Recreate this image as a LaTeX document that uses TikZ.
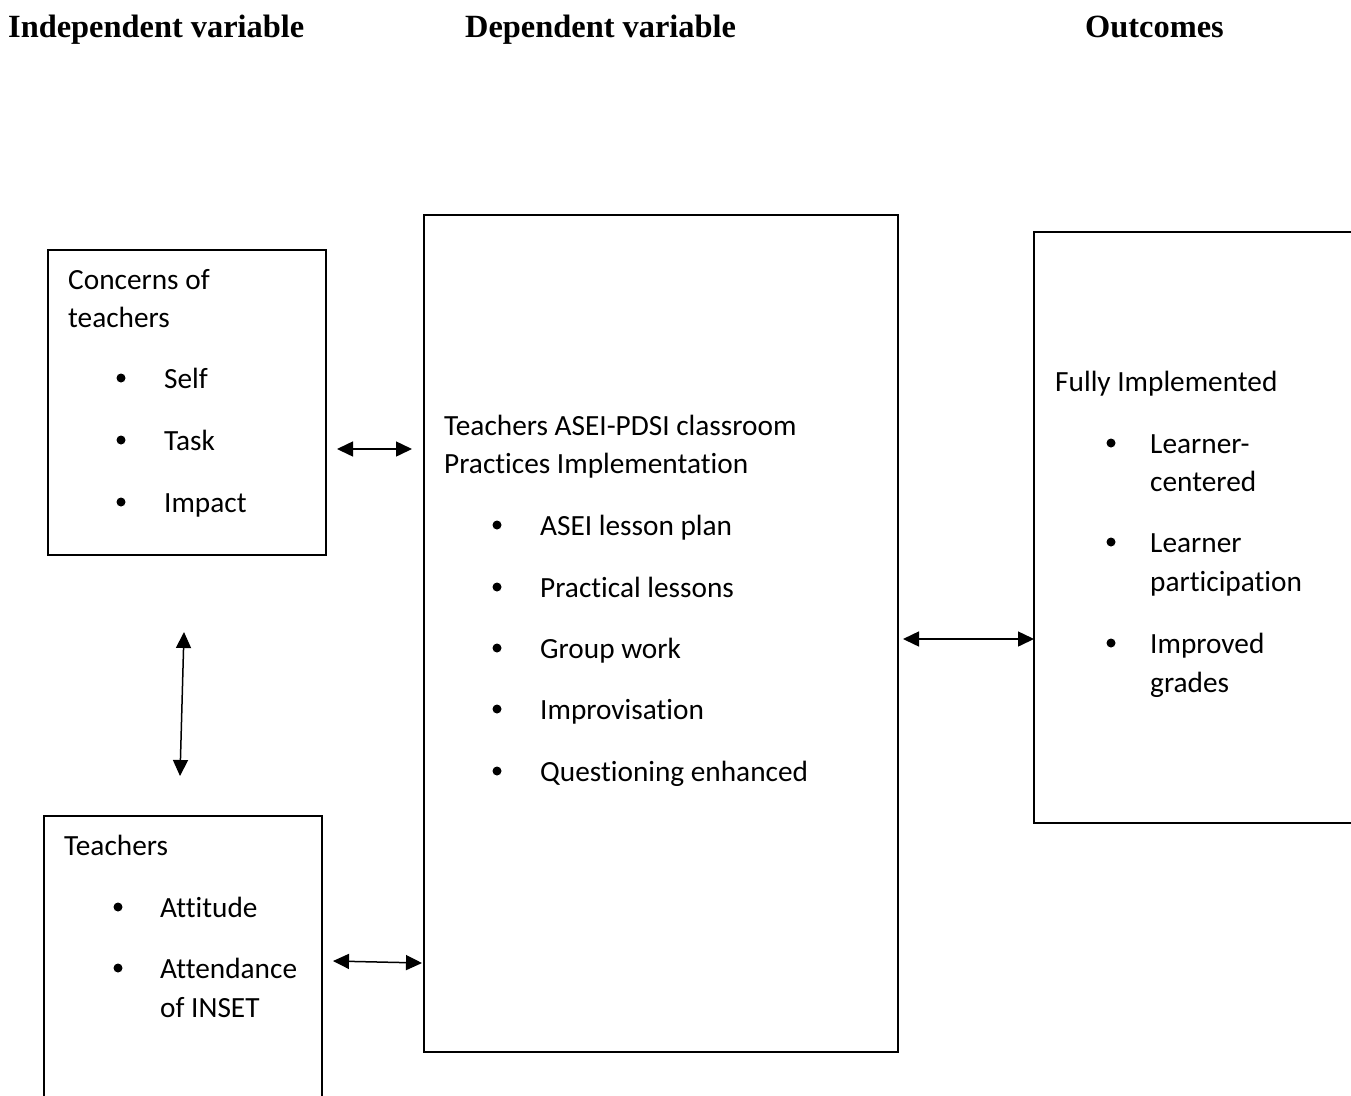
\documentclass[tikz,border=0pt]{standalone}
\usepackage{fontspec}
\setmainfont[Ligatures={NoCommon}]{Carlito}
\newfontfamily\hdrfont{Liberation Serif}
\usetikzlibrary{arrows.meta}
\begin{document}
\begin{tikzpicture}[x=1pt,y=-1pt,
  box/.style={draw,line width=1.4pt,inner sep=0pt,outer sep=0pt},
  txt/.style={anchor=base west,inner sep=0pt,font=\fontsize{29.3}{38}\selectfont},
  hdr/.style={anchor=base west,inner sep=0pt,font=\hdrfont\bfseries\fontsize{32.4}{38}\selectfont},
  arr/.style={{Triangle[length=16pt,width=15pt]}-{Triangle[length=16pt,width=15pt]},line width=1.5pt},
  bul/.style={circle,fill,inner sep=0pt,minimum size=9pt}]
\useasboundingbox (0,0) rectangle (1351,1095);
\clip (0,0) rectangle (1351,1095);
\fill[white] (0,0) rectangle (1351,1095);
% headers
\node[hdr] (h1) at (8,37) {Independent variable};
\node[hdr] (h2) at (465,37) {Dependent variable};
\node[hdr] (h3) at (1085,37) {Outcomes};
% boxes
\node[box,minimum width=278pt,minimum height=305pt] (A) at (187,402.5) {};
\node[box,minimum width=278pt,minimum height=304pt] (B) at (183,968) {};
\node[box,minimum width=474pt,minimum height=837pt] (C) at (661,633.5) {};
\node[box,minimum width=336pt,minimum height=591pt] (D) at (1202,527.5) {};
% box A
\node[txt] (a1) at (68,289) {Concerns of};
\node[txt] (a2) at (68,327) {teachers};
\node[bul] (ab1) at (121,378) {}; \node[txt] (at1) at (164,388) {Self};
\node[bul] (ab2) at (121,440) {}; \node[txt] (at2) at (164,450) {Task};
\node[bul] (ab3) at (121,502) {}; \node[txt] (at3) at (164,512) {Impact};
% box B
\node[txt] (b1) at (64,855) {Teachers};
\node[bul] (bb1) at (118,907) {}; \node[txt] (bt1) at (160,917) {Attitude};
\node[bul] (bb2) at (118,968) {}; \node[txt] (bt2) at (160,978) {Attendance};
\node[txt] (bt3) at (160,1017) {of INSET};
% box C
\node[txt] (c1) at (444,435) {Teachers ASEI-PDSI classroom};
\node[txt] (c2) at (444,473) {Practices Implementation};
\node[bul] (cb1) at (497,525) {}; \node[txt] (ct1) at (540,535) {ASEI lesson plan};
\node[bul] (cb2) at (497,587) {}; \node[txt] (ct2) at (540,597) {Practical lessons};
\node[bul] (cb3) at (497,648) {}; \node[txt] (ct3) at (540,658) {Group work};
\node[bul] (cb4) at (497,709) {}; \node[txt] (ct4) at (540,719) {Improvisation};
\node[bul] (cb5) at (497,771) {}; \node[txt] (ct5) at (540,781) {Questioning enhanced};
% box D
\node[txt] (d1) at (1055,391) {Fully Implemented};
\node[bul] (db1) at (1111,443) {}; \node[txt] (dt1) at (1150,453) {Learner-};
\node[txt] (dt2) at (1150,491) {centered};
\node[bul] (db2) at (1111,542) {}; \node[txt] (dt3) at (1150,552) {Learner};
\node[txt] (dt4) at (1150,591) {participation};
\node[bul] (db3) at (1111,643) {}; \node[txt] (dt5) at (1150,653) {Improved};
\node[txt] (dt6) at (1150,692) {grades};
% connector ends
\coordinate (p1) at (337,449); \coordinate (p2) at (412,449);
\coordinate (p3) at (184,632); \coordinate (p4) at (180,776);
\coordinate (p5) at (333,961); \coordinate (p6) at (422,963);
\coordinate (p7) at (903,639); \coordinate (p8) at (1034,639);
\draw[arr] (p1) -- (p2);
\draw[arr] (p3) -- (p4);
\draw[arr] (p5) -- (p6);
\draw[arr] (p7) -- (p8);
\end{tikzpicture}
\end{document}
